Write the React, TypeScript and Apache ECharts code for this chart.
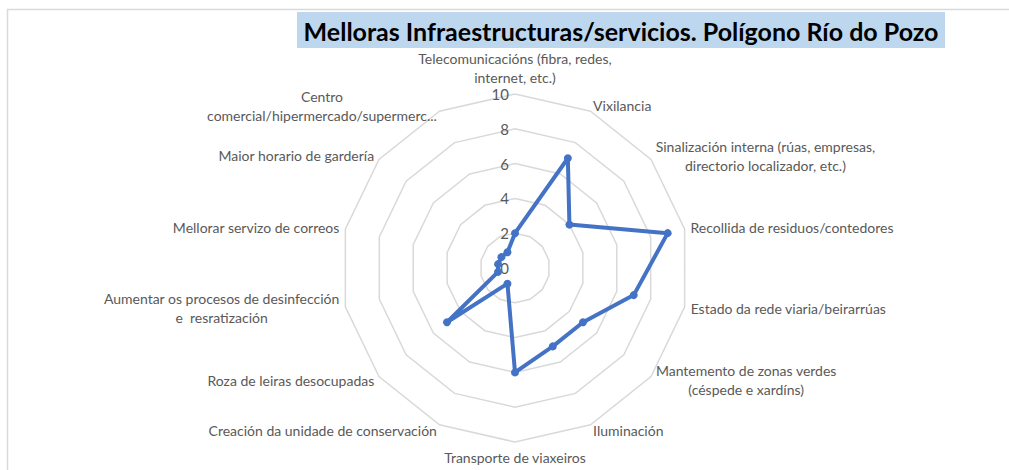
import React, { useEffect, useRef } from "react";
import * as echarts from "echarts";

const titleText = "Melloras Infraestructuras/servicios. Polígono Río do Pozo";

// Clockwise from the top, as in the reference
const categories = [
  "Telecomunicacións (fibra, redes,\ninternet, etc.)",
  "Vixilancia",
  "Sinalización interna (rúas, empresas,\ndirectorio localizador, etc.)",
  "Recollida de residuos/contedores",
  "Estado da rede viaria/beirarrúas",
  "Mantemento de zonas verdes\n(céspede e xardíns)",
  "Iluminación",
  "Transporte de viaxeiros",
  "Creación da unidade de conservación",
  "Roza de leiras desocupadas",
  "Aumentar os procesos de desinfección\ne  resratización",
  "Mellorar servizo de correos",
  "Maior horario de gardería",
  "Centro\ncomercial/hipermercado/supermerc...",
];

const values = [2, 7, 4, 9, 7, 5, 5, 6, 1, 5, 1, 1, 1, 1];

const axisMax = 10;
const splitCount = 5;

export default function App() {
  const ref = useRef<HTMLDivElement>(null);

  useEffect(() => {
    if (!ref.current) return;
    const chart = echarts.init(ref.current, undefined, { renderer: "svg" });

    // ECharts radar runs counter-clockwise: reverse the tail to get clockwise order
    const order = [0, ...categories.map((_, i) => i).slice(1).reverse()];
    const indicator = order.map((i, k) => {
      const ind: any = { name: categories[i], max: axisMax, min: 0 };
      if (k === 0) ind.axisLabel = { show: true };
      return ind;
    });
    const data = order.map((i) => values[i]);

    chart.setOption({
      animation: false,
      backgroundColor: "#ffffff",
      graphic: [
        {
          type: "line",
          shape: { x1: 7, y1: 9.5, x2: 1009, y2: 9.5 },
          style: { stroke: "#d9d9d9", lineWidth: 1.5 },
          silent: true,
        },
        {
          type: "line",
          shape: { x1: 7.5, y1: 9, x2: 7.5, y2: 470 },
          style: { stroke: "#d9d9d9", lineWidth: 1.5 },
          silent: true,
        },
        {
          type: "rect",
          shape: { x: 297, y: 12, width: 648, height: 36 },
          style: { fill: "#bdd7ee" },
          silent: true,
        },
        {
          type: "text",
          x: 621,
          y: 31,
          style: {
            text: titleText,
            fill: "#000000",
            font: "bold 25px Lato",
            align: "center",
            verticalAlign: "middle",
          },
          silent: true,
        },
      ],
      radar: {
        center: [515, 268],
        radius: 174,
        startAngle: 90,
        splitNumber: splitCount,
        shape: "polygon",
        nameGap: 6,
        axisName: {
          color: "#595959",
          fontFamily: "Lato",
          fontSize: 14,
          lineHeight: 19,
          formatter: (name: string) =>
            name
              .split("\n")
              .map((l) => "{c|" + l + "}")
              .join("\n"),
          rich: {
            c: {
              align: "center",
              color: "#595959",
              fontFamily: "Lato",
              fontSize: 14,
              lineHeight: 19,
            },
          },
        },
        axisLine: { show: false },
        axisTick: { show: false },
        axisLabel: {
          show: false,
          color: "#595959",
          fontFamily: "Lato",
          fontSize: 15,
          margin: 6,
        },
        splitLine: { lineStyle: { color: "#d9d9d9", width: 1.5 } },
        splitArea: { show: false },
        indicator,
      },
      series: [
        {
          type: "radar",
          symbol: "circle",
          symbolSize: 8,
          lineStyle: { color: "#4472c4", width: 4 },
          itemStyle: { color: "#4472c4" },
          data: [{ value: data }],
        },
      ],
    });

    return () => chart.dispose();
  }, []);

  return (
    <div
      ref={ref}
      style={{ position: "fixed", left: 0, top: 0, width: 1009, height: 470 }}
    />
  );
}
